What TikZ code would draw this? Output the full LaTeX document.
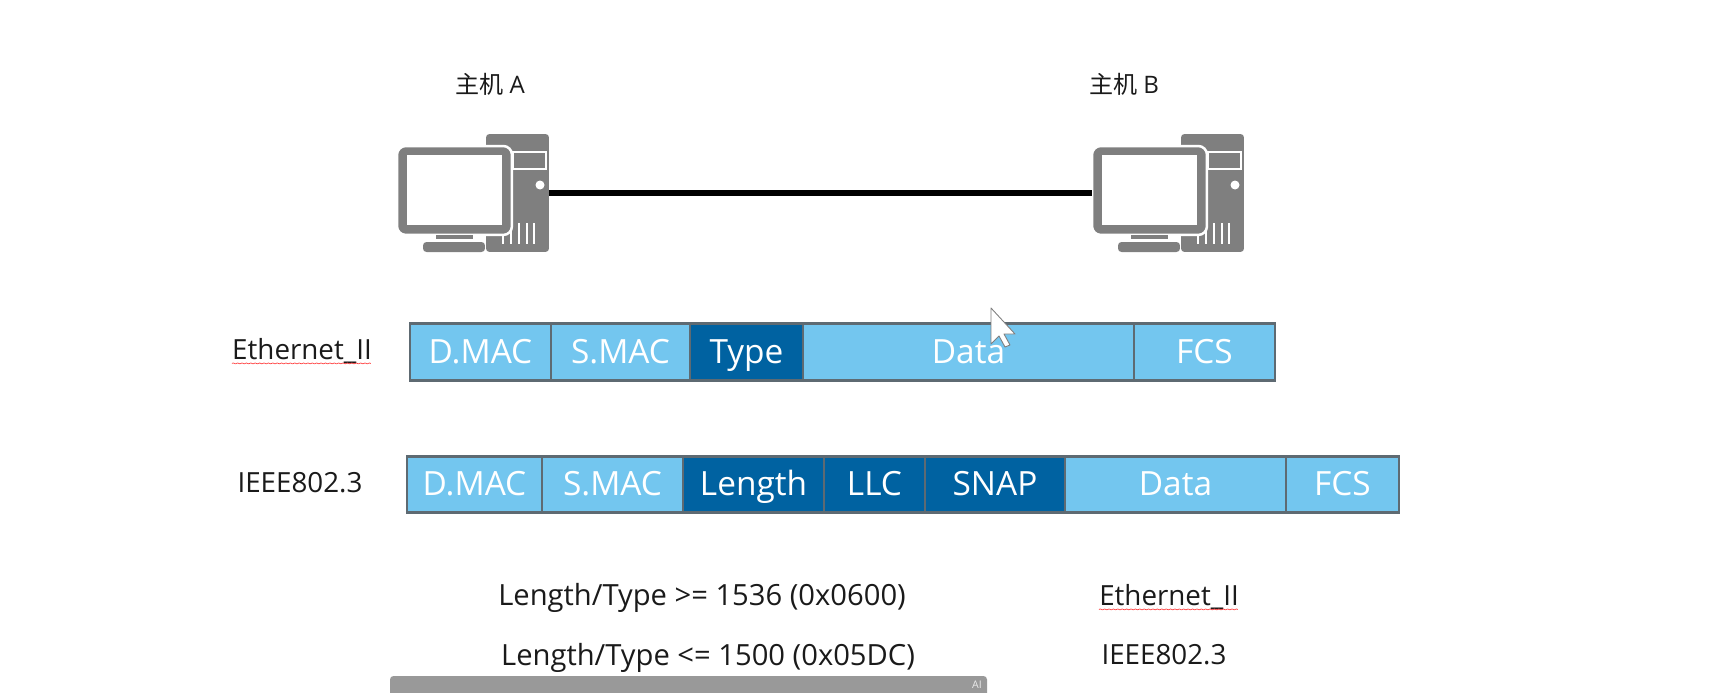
\documentclass[tikz,border=0pt]{standalone}
\usepackage{fontspec}
\setmainfont{Open Sans}
\newfontfamily\cjk{Noto Sans CJK SC}
\usetikzlibrary{decorations.pathmorphing}
\definecolor{vlight}{HTML}{73C6EF}
\definecolor{vdeep}{HTML}{0062A1}
\definecolor{vedge}{HTML}{5E6A72}
\definecolor{vhost}{HTML}{7F7F7F}
\definecolor{vbar}{HTML}{999999}
\definecolor{vink}{HTML}{1A1A1A}
\tikzset{
  cell/.style={draw=vedge,line width=0.055cm,minimum height=1.14cm,inner sep=0pt,outer sep=0pt,anchor=west,text=white,text height=0.5cm,text depth=0.06cm,font=\fontsize{19pt}{22pt}\selectfont},
  lcell/.style={cell,fill=vlight},
  dcell/.style={cell,fill=vdeep},
  lbl/.style={text=vink,inner sep=0pt,font=\fontsize{15.8pt}{20pt}\selectfont},
  rulelbl/.style={lbl,font=\fontsize{16.6pt}{20pt}\selectfont},
  hostlbl/.style={lbl,font=\fontsize{13.7pt}{18pt}\selectfont},
  hostpart/.style={fill=vhost,draw=white,line width=0.05cm,rounded corners=2pt,inner sep=0pt,outer sep=0pt},
  link/.style={draw=black,line width=0.12cm},
  squiggle/.style={draw=red!75!white,line width=0.4pt,decorate,decoration={snake,amplitude=0.25pt,segment length=2.5pt}},
}
\begin{document}
\begin{tikzpicture}[x=0.02cm,y=-0.02cm]
  \useasboundingbox (0,0) rectangle (1725,693);
  % hosts
  \foreach \n/\o/\l in {A/0/490,B/695/1124} {
    \node[hostlbl] (name\n) at (\l,84) {{\cjk 主机} \n};
    \node[hostpart,draw=none,minimum width=1.26cm,minimum height=2.36cm,anchor=north west] (tower\n) at (\o+486,134) {};
    \draw[white,line width=0.04cm] (\o+513,152) rectangle (\o+546,169);
    \fill[white] (\o+540,185) circle (4.5);
    \foreach \v in {503,511,519,527,534}
      \draw[white,line width=0.04cm] (\o+\v,223) -- (\o+\v,244);
    \node[hostpart,draw=none,minimum width=1.24cm,minimum height=0.2cm,anchor=north west] (keys\n) at (\o+423,242) {};
    \node[hostpart,rounded corners=5pt,minimum width=2.3cm,minimum height=1.78cm,anchor=north west] (mon\n) at (\o+397,146) {};
    \fill[white] (\o+407,155) rectangle (\o+502,225);
    \fill[vhost] (\o+436,235) rectangle (\o+473,239);
  }
  \draw[link] (towerA.east|-0,193) -- (monB.west|-0,193);
  % frames
  \foreach \a/\b/\s/\t in {410/551/lcell/D.MAC,551/690/lcell/S.MAC,690/803/dcell/Type,803/1134/lcell/Data,1134/1275/lcell/FCS} {
    \node[\s,minimum width={(\b-\a)*0.02cm}] (ii\t) at (\a,352) {\t};
  }
  \foreach \a/\b/\s/\t in {407/542/lcell/D.MAC,542/683/lcell/S.MAC,683/824/dcell/Length,824/925/dcell/LLC,925/1065/dcell/SNAP,1065/1286/lcell/Data,1286/1399/lcell/FCS} {
    \node[\s,minimum height=1.12cm,minimum width={(\b-\a)*0.02cm}] (dot\t) at (\a,484.5) {\t};
  }
  % labels
  \node[lbl] (etherL) at (302,351) {Ethernet\_II};
  \node[lbl] (ieeeL) at (300,483) {IEEE802.3};
  \node[rulelbl] (ruleA) at (702,598) {Length/Type >= 1536 (0x0600)};
  \node[lbl] (resA) at (1169,597) {Ethernet\_II};
  \node[rulelbl] (ruleB) at (708,658) {Length/Type <= 1500 (0x05DC)};
  \node[lbl] (resB) at (1164,655) {IEEE802.3};
  \draw[squiggle] (etherL.base west) ++(0,4) -- ++(139,0);
  \draw[squiggle] (resA.base west) ++(0,4) -- ++(139,0);
  % cursor
  \draw[fill=white,draw=vhost,line width=0.5pt,line join=round] (991,308) -- (991,344) -- (999,336) -- (1005,347) -- (1010,345) -- (1004,334) -- (1015,334) -- cycle;
  % player bar
  \fill[vbar] (390,693) [rounded corners=2pt] -- (390,676) -- (987,676) [sharp corners] -- (987,693) -- cycle;
  \node[text=white!80!vbar,inner sep=0pt,font=\fontsize{6pt}{7pt}\selectfont] (barAI) at (977,685) {AI};
\end{tikzpicture}
\end{document}
